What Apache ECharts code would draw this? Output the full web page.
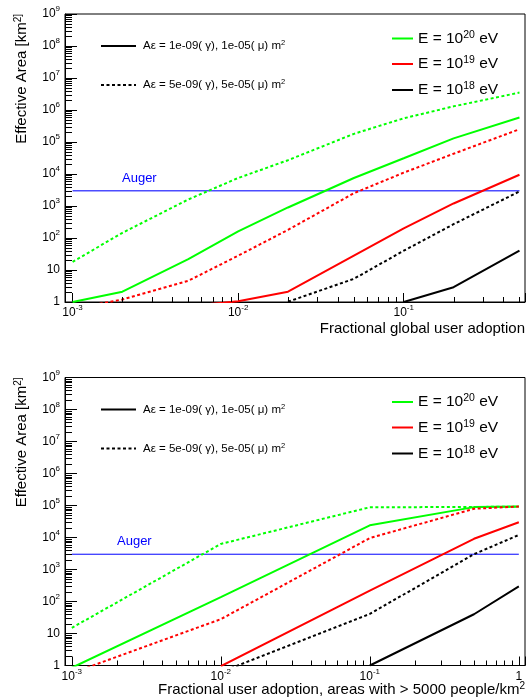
<!DOCTYPE html>
<html>
<head>
<meta charset="utf-8">
<script src="https://cdn.jsdelivr.net/npm/echarts@6.0.0/dist/echarts.min.js"></script>
<style>
html, body { margin: 0; padding: 0; background: #fff; }
#chart { width: 529px; height: 700px; }
</style>
</head>
<body>
<div id="chart"></div>
<script>
// upper panel: fractional global user adoption
var topX = [0.001, 0.002, 0.005, 0.01, 0.02, 0.05, 0.1, 0.2, 0.5];
var topGreen1 = [1.0, 2.1, 22, 160, 900, 7500, 31000, 130000, 580000];
var topGreen5 = [18, 145, 1600, 7500, 27000, 180000, 550000, 1300000, 3500000];
var topRed1 = [null, null, 0.75, 1.05, 2.1, 28, 200, 1200, 9500];
var topRed5 = [0.62, 1.2, 4.6, 28, 180, 2500, 11000, 43000, 250000];
var topBlack1 = [null, null, null, null, null, null, 1.0, 2.9, 40];
var topBlack5 = [null, null, null, null, 1.02, 5.3, 40, 270, 2850];

// lower panel: adoption in areas with > 5000 people/km2
var botX = [0.001, 0.01, 0.1, 0.5, 1];
var botGreen1 = [0.85, 137, 24000, 89000, 93000];
var botGreen5 = [15, 6300, 88000, 90000, 92000];
var botRed1 = [null, 0.95, 220, 9100, 30000];
var botRed5 = [0.58, 28, 9600, 79000, 93000];
var botBlack1 = [null, null, 1.0, 40, 295];
var botBlack5 = [null, 0.62, 41, 3000, 12000];

// Auger reference area
var augerArea = 3000;
var topAugerX = [0.001, 0.5];
var botAugerX = [0.001, 1];

// tick labels
var yTicks = [1, 10, 1e2, 1e3, 1e4, 1e5, 1e6, 1e7, 1e8, 1e9];
var yTickLabels = ['1', '10', '10^2', '10^3', '10^4', '10^5', '10^6', '10^7', '10^8', '10^9'];
var topXTicks = [1e-3, 1e-2, 1e-1];
var topXTickLabels = ['10^-3', '10^-2', '10^-1'];
var botXTicks = [1e-3, 1e-2, 1e-1, 1];
var botXTickLabels = ['10^-3', '10^-2', '10^-1', '1'];

var legendLeft = ['A\u03b5 = 1e-09( \u03b3), 1e-05( \u03bc) m^2', 'A\u03b5 = 5e-09( \u03b3), 5e-05( \u03bc) m^2'];
var legendRight = ['E = 10^20 eV', 'E = 10^19 eV', 'E = 10^18 eV'];

var FONT = 'Liberation Sans, Arial, Helvetica, sans-serif';
var GREEN = '#00ff00', RED = '#ff0000', BLACK = '#000000', BLUE = '#0000ff';
var DOTS = [3, 2.5];

// "10^-3" -> rich text with superscript
function toRich(s, base, sup) {
    var parts = s.split('^');
    var out = '{' + base + '|' + parts[0] + '}';
    if (parts.length > 1) {
        var rest = parts[1].split(' ');
        out += '{' + sup + '|' + rest[0] + '}';
        if (rest.length > 1) out += '{' + base + '| ' + rest.slice(1).join(' ') + '}';
    }
    return out;
}

function tickFormatter(ticks, labels) {
    return function (v) {
        for (var i = 0; i < ticks.length; i++) {
            if (Math.abs(Math.log10(v) - Math.log10(ticks[i])) < 1e-6)
                return toRich(labels[i], 'b', 's');
        }
        return '';
    };
}

function pairs(xs, ys) {
    var out = [];
    for (var i = 0; i < xs.length; i++) {
        if (ys[i] != null) out.push([xs[i], ys[i]]);
    }
    return out;
}

var labelRich = {
    b: { fontSize: 12, fontFamily: FONT, color: '#000', lineHeight: 18 },
    s: { fontSize: 8, fontFamily: FONT, color: '#000', verticalAlign: 'top', lineHeight: 10 }
};

function xAxisCfg(idx, min, max, ticks, labels) {
    return {
        type: 'log', gridIndex: idx, min: min, max: max, splitNumber: 3,
        axisLine: { show: true, lineStyle: { color: '#000', width: 1 } },
        axisTick: { show: true, inside: true, length: 9, lineStyle: { color: '#000' } },
        splitLine: { show: false },
        axisLabel: { margin: 2, formatter: tickFormatter(ticks, labels), rich: labelRich }
    };
}

function yAxisCfg(idx) {
    return {
        type: 'log', gridIndex: idx, min: 1, max: 1e9, splitNumber: 9,
        axisLine: { show: true, lineStyle: { color: '#000', width: 1 } },
        axisTick: { show: true, inside: true, length: 12, lineStyle: { color: '#000' } },
        splitLine: { show: false },
        axisLabel: { margin: 5, formatter: tickFormatter(yTicks, yTickLabels), rich: labelRich }
    };
}

function lineSeries(idx, data, color, dotted) {
    return {
        type: 'line', xAxisIndex: idx, yAxisIndex: idx, data: data,
        symbol: 'none', clip: true, silent: true, animation: false,
        lineStyle: { color: color, width: 2, type: dotted ? DOTS : 'solid' },
        z: 3
    };
}

// minor ticks (2..9 per decade) drawn through the axis scales
function minorValues(lo, hi) {
    var out = [];
    for (var k = -4; k <= 9; k++) {
        for (var m = 2; m <= 9; m++) {
            var v = m * Math.pow(10, k);
            if (v > lo * 1.0001 && v < hi * 0.9999) out.push(v);
        }
    }
    return out;
}

function xMinorSeries(idx, xmin, xmax) {
    var data = minorValues(xmin, xmax).map(function (v) { return [v, 1]; });
    return {
        type: 'custom', xAxisIndex: idx, yAxisIndex: idx, data: data, silent: true, clip: false, z: 4,
        renderItem: function (params, api) {
            var p = api.coord([api.value(0), api.value(1)]);
            var x = Math.round(p[0]) + 0.5;
            return { type: 'line', shape: { x1: x, y1: p[1], x2: x, y2: p[1] - 5 },
                style: { stroke: '#000', lineWidth: 1 } };
        }
    };
}

function yMinorSeries(idx, xmin) {
    var data = minorValues(1, 1e9).map(function (v) { return [xmin, v]; });
    return {
        type: 'custom', xAxisIndex: idx, yAxisIndex: idx, data: data, silent: true, clip: false, z: 4,
        renderItem: function (params, api) {
            var p = api.coord([api.value(0), api.value(1)]);
            var y = Math.round(p[1]) + 0.5;
            return { type: 'line', shape: { x1: p[0], y1: y, x2: p[0] + 7, y2: y },
                style: { stroke: '#000', lineWidth: 1 } };
        }
    };
}

var textRich = function (size, supSize) {
    return {
        t: { fontSize: size, fontFamily: FONT, fill: '#000', lineHeight: size * 1.2 },
        s: { fontSize: supSize, fontFamily: FONT, fill: '#000', verticalAlign: 'top', lineHeight: supSize * 1.1 }
    };
};

function textEl(x, y, str, size, supSize, align, rotation, color) {
    var rich = textRich(size, supSize);
    if (color) { rich.t.fill = color; rich.s.fill = color; }
    return {
        type: 'text', x: x, y: y, rotation: rotation || 0, z: 10, silent: true,
        style: { text: toRich(str, 't', 's'), rich: rich, textAlign: align, textVerticalAlign: 'middle' }
    };
}

function lineEl(x1, x2, y, color, dotted) {
    return {
        type: 'line', z: 10, silent: true,
        shape: { x1: x1, y1: y, x2: x2, y2: y },
        style: { stroke: color, lineWidth: 2, lineDash: dotted ? DOTS : null }
    };
}

function panelGraphics(top) {
    var yl = [top + 32, top + 71];
    var yr = [top + 24.5, top + 50, top + 76];
    var colors = [GREEN, RED, BLACK];
    var els = [
        lineEl(101, 136, yl[0], BLACK, false),
        lineEl(101, 136, yl[1], BLACK, true),
        textEl(143, yl[0], legendLeft[0], 11.5, 7.5, 'left'),
        textEl(143, yl[1], legendLeft[1], 11.5, 7.5, 'left'),
        textEl(22, top, 'Effective Area [km^2]', 15, 10, 'right', Math.PI / 2)
    ];
    for (var i = 0; i < 3; i++) {
        els.push(lineEl(392, 413, yr[i], colors[i], false));
        els.push(textEl(418, yr[i], legendRight[i], 15.5, 10.5, 'left'));
    }
    return els;
}

var graphics = panelGraphics(14).concat(panelGraphics(377.5));
graphics.push(textEl(122, 178, 'Auger', 13, 9, 'left', 0, BLUE));
graphics.push(textEl(117, 541, 'Auger', 13, 9, 'left', 0, BLUE));
graphics.push(textEl(525, 329, 'Fractional global user adoption', 15, 10, 'right'));
graphics.push(textEl(525, 690, 'Fractional user adoption, areas with > 5000 people/km^2', 15, 10, 'right'));

var TOPMIN = 0.0009, TOPMAX = 0.54, BOTMIN = 0.0009, BOTMAX = 1.1;

var option = {
    animation: false,
    backgroundColor: '#fff',
    textStyle: { fontFamily: FONT },
    grid: [
        { left: 65, top: 14, right: 4, height: 288, show: true, borderColor: '#000', borderWidth: 1, backgroundColor: 'transparent' },
        { left: 65, top: 377.5, right: 4, height: 288, show: true, borderColor: '#000', borderWidth: 1, backgroundColor: 'transparent' }
    ],
    xAxis: [
        xAxisCfg(0, TOPMIN, TOPMAX, topXTicks, topXTickLabels),
        xAxisCfg(1, BOTMIN, BOTMAX, botXTicks, botXTickLabels)
    ],
    yAxis: [yAxisCfg(0), yAxisCfg(1)],
    graphic: graphics,
    series: [
        lineSeries(0, pairs(topAugerX, [augerArea, augerArea]), '#4c4cff', false),
        lineSeries(0, pairs(topX, topGreen5), GREEN, true),
        lineSeries(0, pairs(topX, topGreen1), GREEN, false),
        lineSeries(0, pairs(topX, topRed5), RED, true),
        lineSeries(0, pairs(topX, topRed1), RED, false),
        lineSeries(0, pairs(topX, topBlack5), BLACK, true),
        lineSeries(0, pairs(topX, topBlack1), BLACK, false),
        lineSeries(1, pairs(botAugerX, [augerArea, augerArea]), BLUE, false),
        lineSeries(1, pairs(botX, botGreen5), GREEN, true),
        lineSeries(1, pairs(botX, botGreen1), GREEN, false),
        lineSeries(1, pairs(botX, botRed5), RED, true),
        lineSeries(1, pairs(botX, botRed1), RED, false),
        lineSeries(1, pairs(botX, botBlack5), BLACK, true),
        lineSeries(1, pairs(botX, botBlack1), BLACK, false),
        xMinorSeries(0, TOPMIN, TOPMAX),
        xMinorSeries(1, BOTMIN, BOTMAX),
        yMinorSeries(0, TOPMIN),
        yMinorSeries(1, BOTMIN)
    ]
};
// the Auger lines are thin
option.series[0].lineStyle.width = 1.3;
option.series[7].lineStyle.width = 1;

var myChart = echarts.init(document.getElementById('chart'), null, { renderer: 'canvas' });
myChart.setOption(option);
</script>
</body>
</html>
